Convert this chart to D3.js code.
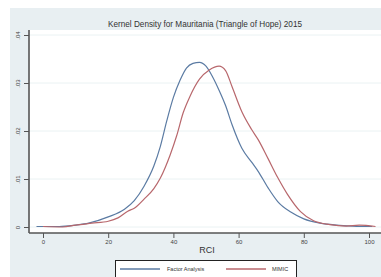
<!DOCTYPE html>
<html>
<head>
<meta charset="utf-8">
<script src="https://cdnjs.cloudflare.com/ajax/libs/d3/7.8.5/d3.min.js"></script>
<style>
  body { margin: 0; background: #fff; }
  svg { display: block; font-family: "Liberation Sans", Arial, sans-serif; }
</style>
</head>
<body>
<script>
// data
var factorX = [-2, 5, 10, 14, 20, 25, 28, 31, 34, 36, 38, 40, 42, 44, 46, 48, 50, 52, 54, 56, 58, 61, 64, 66, 69, 72, 76, 80, 85, 90, 95, 101];
var factorY = [0.0001, 0.0001, 0.0004, 0.0008, 0.0021, 0.0037, 0.0055, 0.0085, 0.0127, 0.0168, 0.0222, 0.0270, 0.0305, 0.0331, 0.0341, 0.0343,
  0.0335, 0.0313, 0.0285, 0.0253, 0.0213, 0.0164, 0.0135, 0.0116, 0.0082, 0.0053, 0.0031, 0.0017, 0.0008, 0.0004, 0.0002, 0.0001];
var mimicX = [0, 6, 10, 15, 20, 23, 26, 28, 31, 34, 36, 39, 41, 43, 45, 48, 51, 54, 56, 58, 61, 64, 66, 69, 72, 75, 79, 83, 88, 93, 97, 102];
var mimicY = [0.0001, 0.0000, 0.0004, 0.0008, 0.0012, 0.0019, 0.0033, 0.0039, 0.0058, 0.0080, 0.0102, 0.0150, 0.0190, 0.0238, 0.0271, 0.0308,
  0.0327, 0.0335, 0.0326, 0.0292, 0.0240, 0.0203, 0.0182, 0.0143, 0.0103, 0.0068, 0.0032, 0.0013, 0.0005, 0.0002, 0.0004, 0.0001];
var xTicks = [0, 20, 40, 60, 80, 100];
var yTicks = [0, 0.01, 0.02, 0.03, 0.04];
var yTickLabels = ["0", ".01", ".02", ".03", ".04"];
var seriesNames = ["Factor Analysis", "MIMIC"];

var W = 381, H = 277;
var svg = d3.select('body').append('svg').attr('width', W).attr('height', H);

// graph region background
svg.append('rect').attr('x', 10).attr('y', 8).attr('width', W - 10).attr('height', H - 8).attr('fill', '#e8eff2');
// plot region
var plotL = 29, plotT = 30, plotB = 233;
svg.append('rect').attr('x', plotL).attr('y', plotT).attr('width', W - plotL).attr('height', plotB - plotT).attr('fill', '#fff');

var x = d3.scaleLinear().domain([0, 100]).range([43, 369]);
var y = d3.scaleLinear().domain([0, 0.04]).range([227, 35]);

// grid
svg.append('g').selectAll('line').data(yTicks).enter().append('line')
  .attr('x1', plotL).attr('x2', W)
  .attr('y1', function (d) { return y(d); }).attr('y2', function (d) { return y(d); })
  .attr('stroke', '#eaf2f3').attr('stroke-width', 1);

// title
svg.append('text').attr('x', 205).attr('y', 27).attr('text-anchor', 'middle')
  .attr('font-size', 8.2).attr('fill', '#333')
  .text('Kernel Density for Mauritania (Triangle of Hope) 2015');

// curves
var line = d3.line()
  .x(function (d) { return x(d[0]); })
  .y(function (d) { return y(d[1]); })
  .curve(d3.curveMonotoneX);
var colors = ['#5b7ba3', '#b8676c'];
[[factorX, factorY], [mimicX, mimicY]].forEach(function (s, i) {
  svg.append('path')
    .datum(d3.zip(s[0], s[1]))
    .attr('d', line)
    .attr('fill', 'none')
    .attr('stroke', colors[i])
    .attr('stroke-width', 1.2);
});

// axes
var xAxis = d3.axisBottom(x).tickValues(xTicks).tickSize(5).tickPadding(2);
var gx = svg.append('g').attr('transform', 'translate(0,' + plotB + ')').call(xAxis);
gx.select('.domain').remove();
gx.append('line').attr('x1', plotL).attr('x2', W).attr('stroke', '#555').attr('stroke-width', 1.6);
gx.selectAll('.tick line').attr('stroke', '#555');
gx.selectAll('.tick text').attr('font-size', 6).attr('fill', '#444').attr('font-family', '"Liberation Sans", Arial, sans-serif');

var yAxis = d3.axisLeft(y).tickValues(yTicks).tickSize(5)
  .tickFormat(function (d, i) { return yTickLabels[i]; });
var gy = svg.append('g').attr('transform', 'translate(' + plotL + ',0)').call(yAxis);
gy.select('.domain').remove();
gy.append('line').attr('y1', plotT).attr('y2', plotB).attr('stroke', '#555').attr('stroke-width', 1.6);
gy.selectAll('.tick line').attr('stroke', '#555');
gy.selectAll('.tick text')
  .attr('x', 0).attr('y', 0).attr('dy', null)
  .attr('text-anchor', 'middle')
  .attr('transform', 'translate(-9,0) rotate(-90)')
  .attr('font-size', 6).attr('fill', '#444').attr('font-family', '"Liberation Sans", Arial, sans-serif');

// axis title
svg.append('text').attr('x', 207).attr('y', 253).attr('text-anchor', 'middle')
  .attr('font-size', 9).attr('fill', '#333').text('RCI');

// legend
svg.append('rect').attr('x', 115.5).attr('y', 260.5).attr('width', 181).attr('height', 24)
  .attr('fill', '#fff').attr('stroke', '#222').attr('stroke-width', 1);
var legX = [[120, 160, 167], [226, 266, 272]];
seriesNames.forEach(function (n, i) {
  svg.append('line').attr('x1', legX[i][0]).attr('x2', legX[i][1]).attr('y1', 269).attr('y2', 269)
    .attr('stroke', colors[i]).attr('stroke-width', 1.6);
  svg.append('text').attr('x', legX[i][2]).attr('y', 271).attr('font-size', 5.5).attr('fill', '#333').text(n);
});
</script>
</body>
</html>
